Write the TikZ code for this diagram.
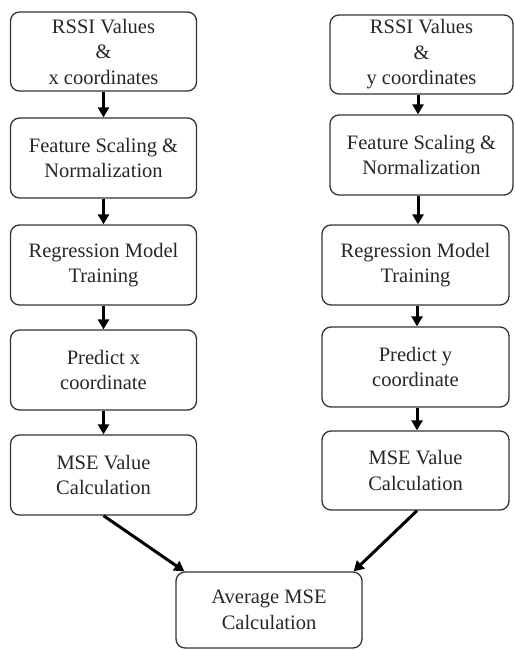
\documentclass[tikz,border=0pt]{standalone}
\usepackage{fontspec}
\setmainfont{Liberation Serif}
\usetikzlibrary{arrows.meta,positioning,calc}

\begin{document}
\begin{tikzpicture}[x=1pt,y=-1pt,
    box/.style={draw=black!80, line width=1.3pt, rounded corners=9pt, align=center, inner sep=0pt,
        text=black!85, minimum width=186pt, minimum height=80pt, font=\fontsize{20.5}{25.5}\selectfont},
    arr/.style={draw=black, line width=3pt, -{Triangle[length=10pt,width=11pt]}}]
    \useasboundingbox (0,0) rectangle (514,650);

    % Left column (x)
    \node[box, minimum height=79pt] (l1) at (103.5,51.5) {RSSI Values\\\&\\x coordinates};
    \node[box] (l2) at (103.5,158) {Feature Scaling \&\\Normalization};
    \node[box] (l3) at (103.5,265) {Regression Model\\Training};
    \node[box] (l4) at (103.5,370) {Predict x\\coordinate};
    \node[box] (l5) at (103.5,475) {MSE Value\\Calculation};

    % Right column (y)
    \node[box, minimum width=183pt, minimum height=79pt] (r1) at (421.5,54.5) {RSSI Values\\\&\\y coordinates};
    \node[box, minimum width=183pt] (r2) at (421.5,155) {Feature Scaling \&\\Normalization};
    \node[box, minimum width=187pt] (r3) at (415.5,265) {Regression Model\\Training};
    \node[box, minimum width=187pt] (r4) at (415.5,367) {Predict y\\coordinate};
    \node[box, minimum width=187pt, minimum height=79pt] (r5) at (415.5,470.5) {MSE Value\\Calculation};

    % Result
    \node[box, minimum height=76pt] (avg) at (269,610) {Average MSE\\Calculation};

    % Connections
    \draw[arr] (l1) -- (l2);
    \draw[arr] (l2) -- (l3);
    \draw[arr] (l3) -- (l4);
    \draw[arr] (l4) -- (l5);
    \draw[arr] (r1.south -| 418,0) -- (r2.north -| 418,0);
    \draw[arr] (r2.south -| 418,0) -- (r3.north -| 418,0);
    \draw[arr] (r3.south -| 417,0) -- (r4.north -| 417,0);
    \draw[arr] (r4.south -| 417,0) -- (r5.north -| 417,0);
    \draw[arr] (l5.south) -- ($(avg.north west)+(9,0)$);
    \draw[arr] (r5.south -| 417,0) -- ($(avg.north east)+(-9,0)$);
\end{tikzpicture}
\end{document}
